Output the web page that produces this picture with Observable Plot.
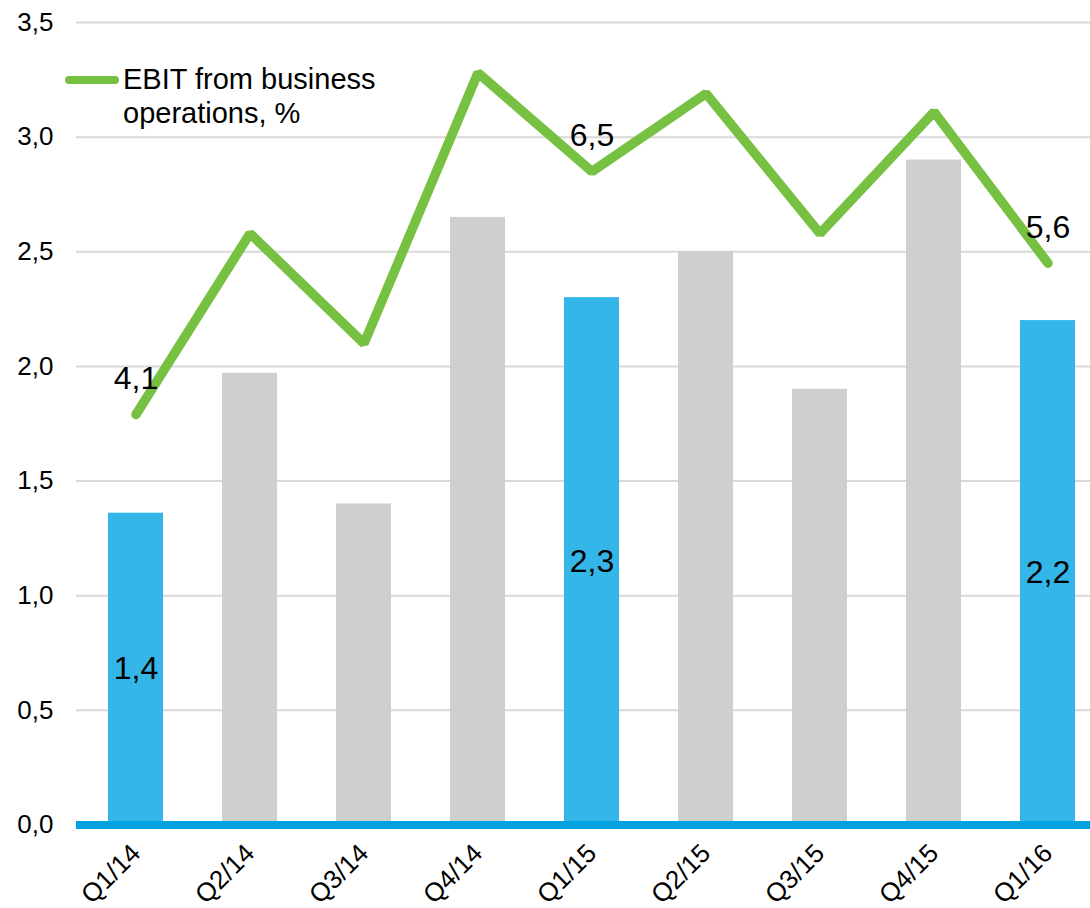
<!DOCTYPE html>
<html>
<head>
<meta charset="utf-8">
<script src="https://cdn.jsdelivr.net/npm/d3@7"></script>
<script src="https://cdn.jsdelivr.net/npm/@observablehq/plot@0.6"></script>
<style>
  html, body { margin: 0; padding: 0; background: #fff; overflow: hidden; }
  #wrap { position: relative; width: 1090px; height: 908px; font-family: "Liberation Sans", Arial, sans-serif; }
  #legend { position: absolute; left: 65px; top: 62px; display: flex; align-items: flex-start; font-size: 29px; line-height: 34px; color: #000; }
  #legend .sw { width: 54px; height: 8px; border-radius: 4px; background: #77C142; margin-top: 14px; margin-right: 4px; flex: none; }
</style>
</head>
<body>
<div id="wrap">
  <div id="chart"></div>
  <div id="legend"><div class="sw"></div><div>EBIT from business<br>operations, %</div></div>
</div>
<script>
const quarters = ["Q1/14", "Q2/14", "Q3/14", "Q4/14", "Q1/15", "Q2/15", "Q3/15", "Q4/15", "Q1/16"];
const barValues = [1.36, 1.97, 1.40, 2.65, 2.30, 2.50, 1.90, 2.90, 2.20];
const lineValues = [1.79, 2.58, 2.10, 3.28, 2.85, 3.19, 2.58, 3.11, 2.45];
const highlighted = ["Q1/14", "Q1/15", "Q1/16"];
const barLabelText = ["1,4", "", "", "", "2,3", "", "", "", "2,2"];
const lineLabelText = ["4,1", "", "", "", "6,5", "", "", "", "5,6"];
const yTicks = [0, 0.5, 1, 1.5, 2, 2.5, 3, 3.5];

const rows = quarters.map((q, i) => ({
  q, bar: barValues[i], line: lineValues[i],
  hi: highlighted.includes(q),
  barLabel: barLabelText[i], lineLabel: lineLabelText[i]
}));

const fmt = d => d3.format(".1f")(d).replace(".", ",");

const chart = Plot.plot({
  width: 1090,
  height: 908,
  marginLeft: 76,
  marginRight: 0,
  marginTop: 22,
  marginBottom: 83.5,
  style: { fontFamily: "Liberation Sans, Arial, sans-serif", color: "#000", background: "#fff" },
  x: { type: "band", domain: quarters, range: [76, 1106], paddingInner: 0.52, paddingOuter: 0.26, align: 0.5 },
  y: { domain: [0, 3.5] },
  marks: [
    Plot.gridY(yTicks, { stroke: "#D9D9D9", strokeOpacity: 1, strokeWidth: 2 }),
    Plot.barY(rows, { x: "q", y: "bar", fill: d => d.hi ? "#35B6E9" : "#CFCFCF" }),
    Plot.ruleY([0], { stroke: "#00A3E0", strokeWidth: 8 }),
    Plot.line(rows, { x: "q", y: "line", stroke: "#77C142", strokeWidth: 9.5, strokeLinecap: "round", strokeLinejoin: "miter" }),
    Plot.text(rows.filter(d => d.lineLabel), { x: "q", y: "line", text: "lineLabel", dy: -36, fontSize: 32, fill: "#000" }),
    Plot.text(rows.filter(d => d.barLabel), { x: "q", y: d => d.bar / 2, text: "barLabel", fontSize: 32, fill: "#000" }),
    Plot.axisY(yTicks, { tickSize: 0, tickPadding: 23, tickFormat: fmt, fontSize: 26, label: null }),
    Plot.axisX({ tickSize: 0, tickPadding: 24, tickRotate: -45, fontSize: 26, label: null })
  ]
});
document.getElementById("chart").appendChild(chart);
</script>
</body>
</html>
